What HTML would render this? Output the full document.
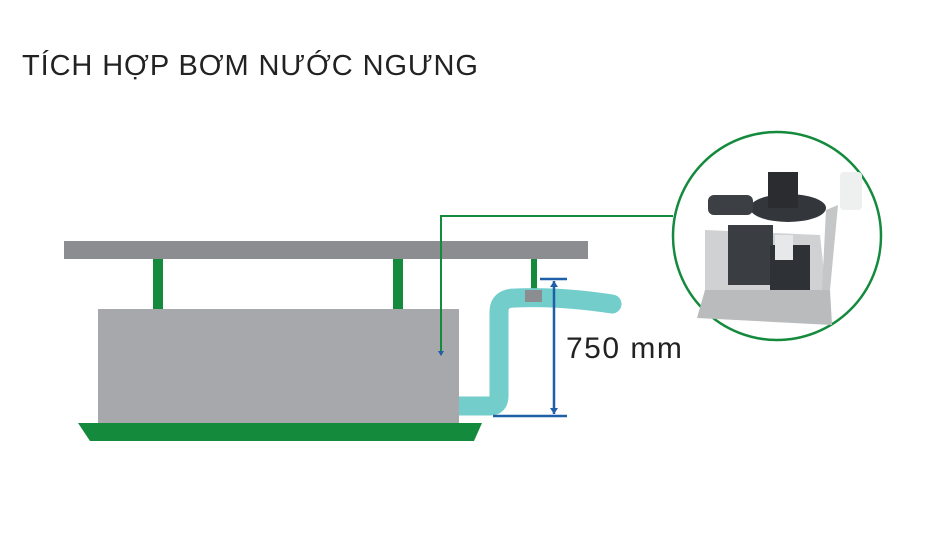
<!DOCTYPE html>
<html><head><meta charset="utf-8"><style>
body{margin:0;background:#fff;width:950px;height:534px;overflow:hidden;position:relative;font-family:"Liberation Sans",sans-serif}
.t{position:absolute;left:22px;top:50px;font-size:29px;color:#222;letter-spacing:0.9px}
.m{position:absolute;left:566px;top:332px;font-size:30px;color:#222;letter-spacing:1.5px}
</style></head><body>
<svg width="950" height="534" style="position:absolute;left:0;top:0">
<rect x="64" y="241" width="524" height="18" fill="#8c8d90"/>
<rect x="153" y="259" width="10" height="50" fill="#138a3c"/>
<rect x="393" y="259" width="10" height="50" fill="#138a3c"/>
<rect x="531" y="259" width="6" height="33" fill="#138a3c"/>
<path d="M459 406 H490 Q499 406 499 396 V312 Q499 298 515 298 Q560 296 612 304" fill="none" stroke="#73cdcb" stroke-width="19" stroke-linecap="round"/>
<rect x="525" y="290" width="17" height="12" fill="#8c8d90"/>
<rect x="98" y="309" width="361" height="114" fill="#a7a8ab"/>
<polygon points="78,423 482,423 474,441 90,441" fill="#138a3c"/>
<polyline points="441,355 441,216 673,216" fill="none" stroke="#138a3c" stroke-width="2"/>
<polygon points="438,351 444,351 441,356" fill="#1f5fa8"/>
<g stroke="#1f5fa8" stroke-width="2.5" fill="#1f5fa8">
<line x1="540" y1="279" x2="567" y2="279"/>
<line x1="493" y1="416" x2="567" y2="416"/>
<line x1="554" y1="281" x2="554" y2="414"/>
</g>
<polygon points="550,287 558,287 554,281" fill="#1f5fa8"/>
<polygon points="550,408 558,408 554,414" fill="#1f5fa8"/>
<circle cx="777" cy="236" r="104" fill="#fff" stroke="#138a3c" stroke-width="2.5"/>
<polygon points="705,290 830,290 832,325 697,318" fill="#b9bbbc"/>
<polygon points="705,230 820,235 826,290 705,290" fill="#cfd1d3"/>
<rect x="728" y="225" width="45" height="60" fill="#3a3d42"/>
<rect x="770" y="245" width="40" height="45" fill="#2e3135"/>
<ellipse cx="788" cy="208" rx="38" ry="14" fill="#33363a"/>
<rect x="768" y="172" width="30" height="36" fill="#2a2c30"/>
<rect x="708" y="195" width="45" height="20" rx="6" fill="#3c3f44"/>
<rect x="775" y="235" width="18" height="25" fill="#e6e8ea"/>
<rect x="840" y="172" width="22" height="38" rx="4" fill="#eef0ef"/>
<polygon points="826,210 838,205 830,290 822,290" fill="#c4c6c8"/>
</svg>
<div class="t">TÍCH HỢP BƠM NƯỚC NGƯNG</div>
<div class="m">750 mm</div>
</body></html>
